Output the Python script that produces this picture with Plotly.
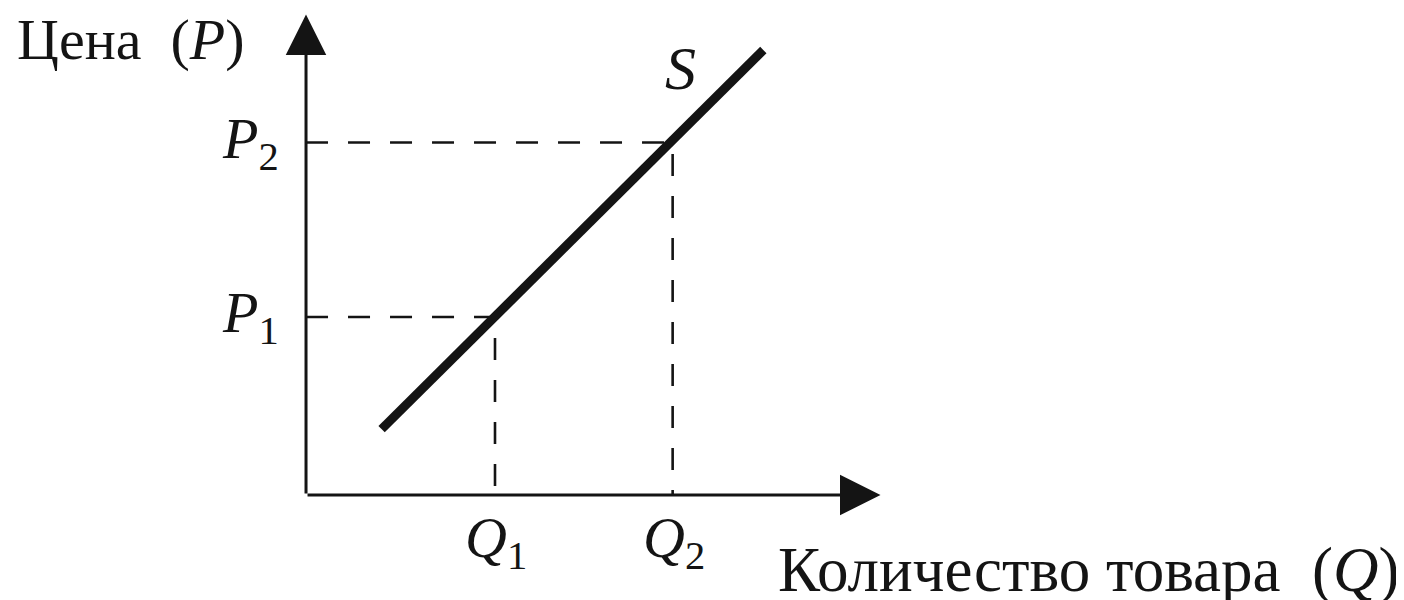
import plotly.graph_objects as go

# quantities and prices (Q1, Q2 / P1, P2)
q_levels = [1.0, 1.94]
p_levels = [1.0, 1.98]
q_names = ["<i>Q</i><sub>1</sub>", "<i>Q</i><sub>2</sub>"]
p_names = ["<i>P</i><sub>1</sub>", "<i>P</i><sub>2</sub>"]

# supply curve S, two end points
supply_q = [0.40, 2.42]
supply_p = [0.37, 2.50]

# length of the two axes
axis_q_max = 3.04
axis_p_max = 2.70

ink = "#141414"
serif = "Liberation Serif, Times New Roman, serif"

fig = go.Figure()

# dashed guides from each axis to the curve
for q, p in zip(q_levels, p_levels):
    fig.add_trace(go.Scatter(
        x=[0, q, q], y=[p, p, 0],
        mode="lines",
        line=dict(color=ink, width=2.6, dash="22px,20px"),
        hoverinfo="skip",
        showlegend=False,
    ))

fig.add_trace(go.Scatter(
    x=supply_q, y=supply_p,
    mode="lines",
    line=dict(color=ink, width=9),
    name="S",
    showlegend=False,
))

annotations = []

# axes with arrow heads
annotations.append(dict(
    x=0, y=axis_p_max, ax=0, ay=0,
    xref="x", yref="y", axref="x", ayref="y",
    text="", showarrow=True, arrowhead=2, arrowsize=2.7,
    arrowwidth=3, arrowcolor=ink, standoff=0,
))
annotations.append(dict(
    x=axis_q_max, y=0, ax=0, ay=0,
    xref="x", yref="y", axref="x", ayref="y",
    text="", showarrow=True, arrowhead=2, arrowsize=2.7,
    arrowwidth=3, arrowcolor=ink, standoff=0,
))

for p, name in zip(p_levels, p_names):
    annotations.append(dict(
        x=-0.13, y=p, xref="x", yref="y",
        text=name, showarrow=False,
        xanchor="right", yanchor="middle", yshift=0,
        font=dict(family=serif, size=58, color=ink),
    ))

for q, name in zip(q_levels, q_names):
    annotations.append(dict(
        x=q, y=-0.26, xref="x", yref="y",
        text=name, showarrow=False,
        xanchor="center", yanchor="middle", xshift=1,
        font=dict(family=serif, size=58, color=ink),
    ))

annotations.append(dict(
    x=1.98, y=2.40, xref="x", yref="y",
    text="<i>S</i>", showarrow=False,
    xanchor="center", yanchor="middle",
    font=dict(family=serif, size=62, color=ink),
))

annotations.append(dict(
    x=-1.54, y=2.56, xref="x", yref="y",
    text="Цена  (<i>P</i>)", showarrow=False,
    xanchor="left", yanchor="middle",
    font=dict(family=serif, size=58, color=ink),
))

annotations.append(dict(
    x=5.80, y=-0.42, xref="x", yref="y",
    text="Количество товара  (<i>Q</i>)", showarrow=False,
    xanchor="right", yanchor="middle",
    font=dict(family=serif, size=63, color=ink),
))

# page body keeps an 8px margin, so the figure is made 8px smaller
fig.update_layout(
    width=1396,
    height=592,
    margin=dict(l=0, r=0, t=0, b=0),
    paper_bgcolor="white",
    plot_bgcolor="white",
    annotations=annotations,
    xaxis=dict(range=[-1.577, 5.810], visible=False, fixedrange=True),
    yaxis=dict(range=[-0.590, 2.736], visible=False, fixedrange=True),
)

fig.write_html("out.html")
